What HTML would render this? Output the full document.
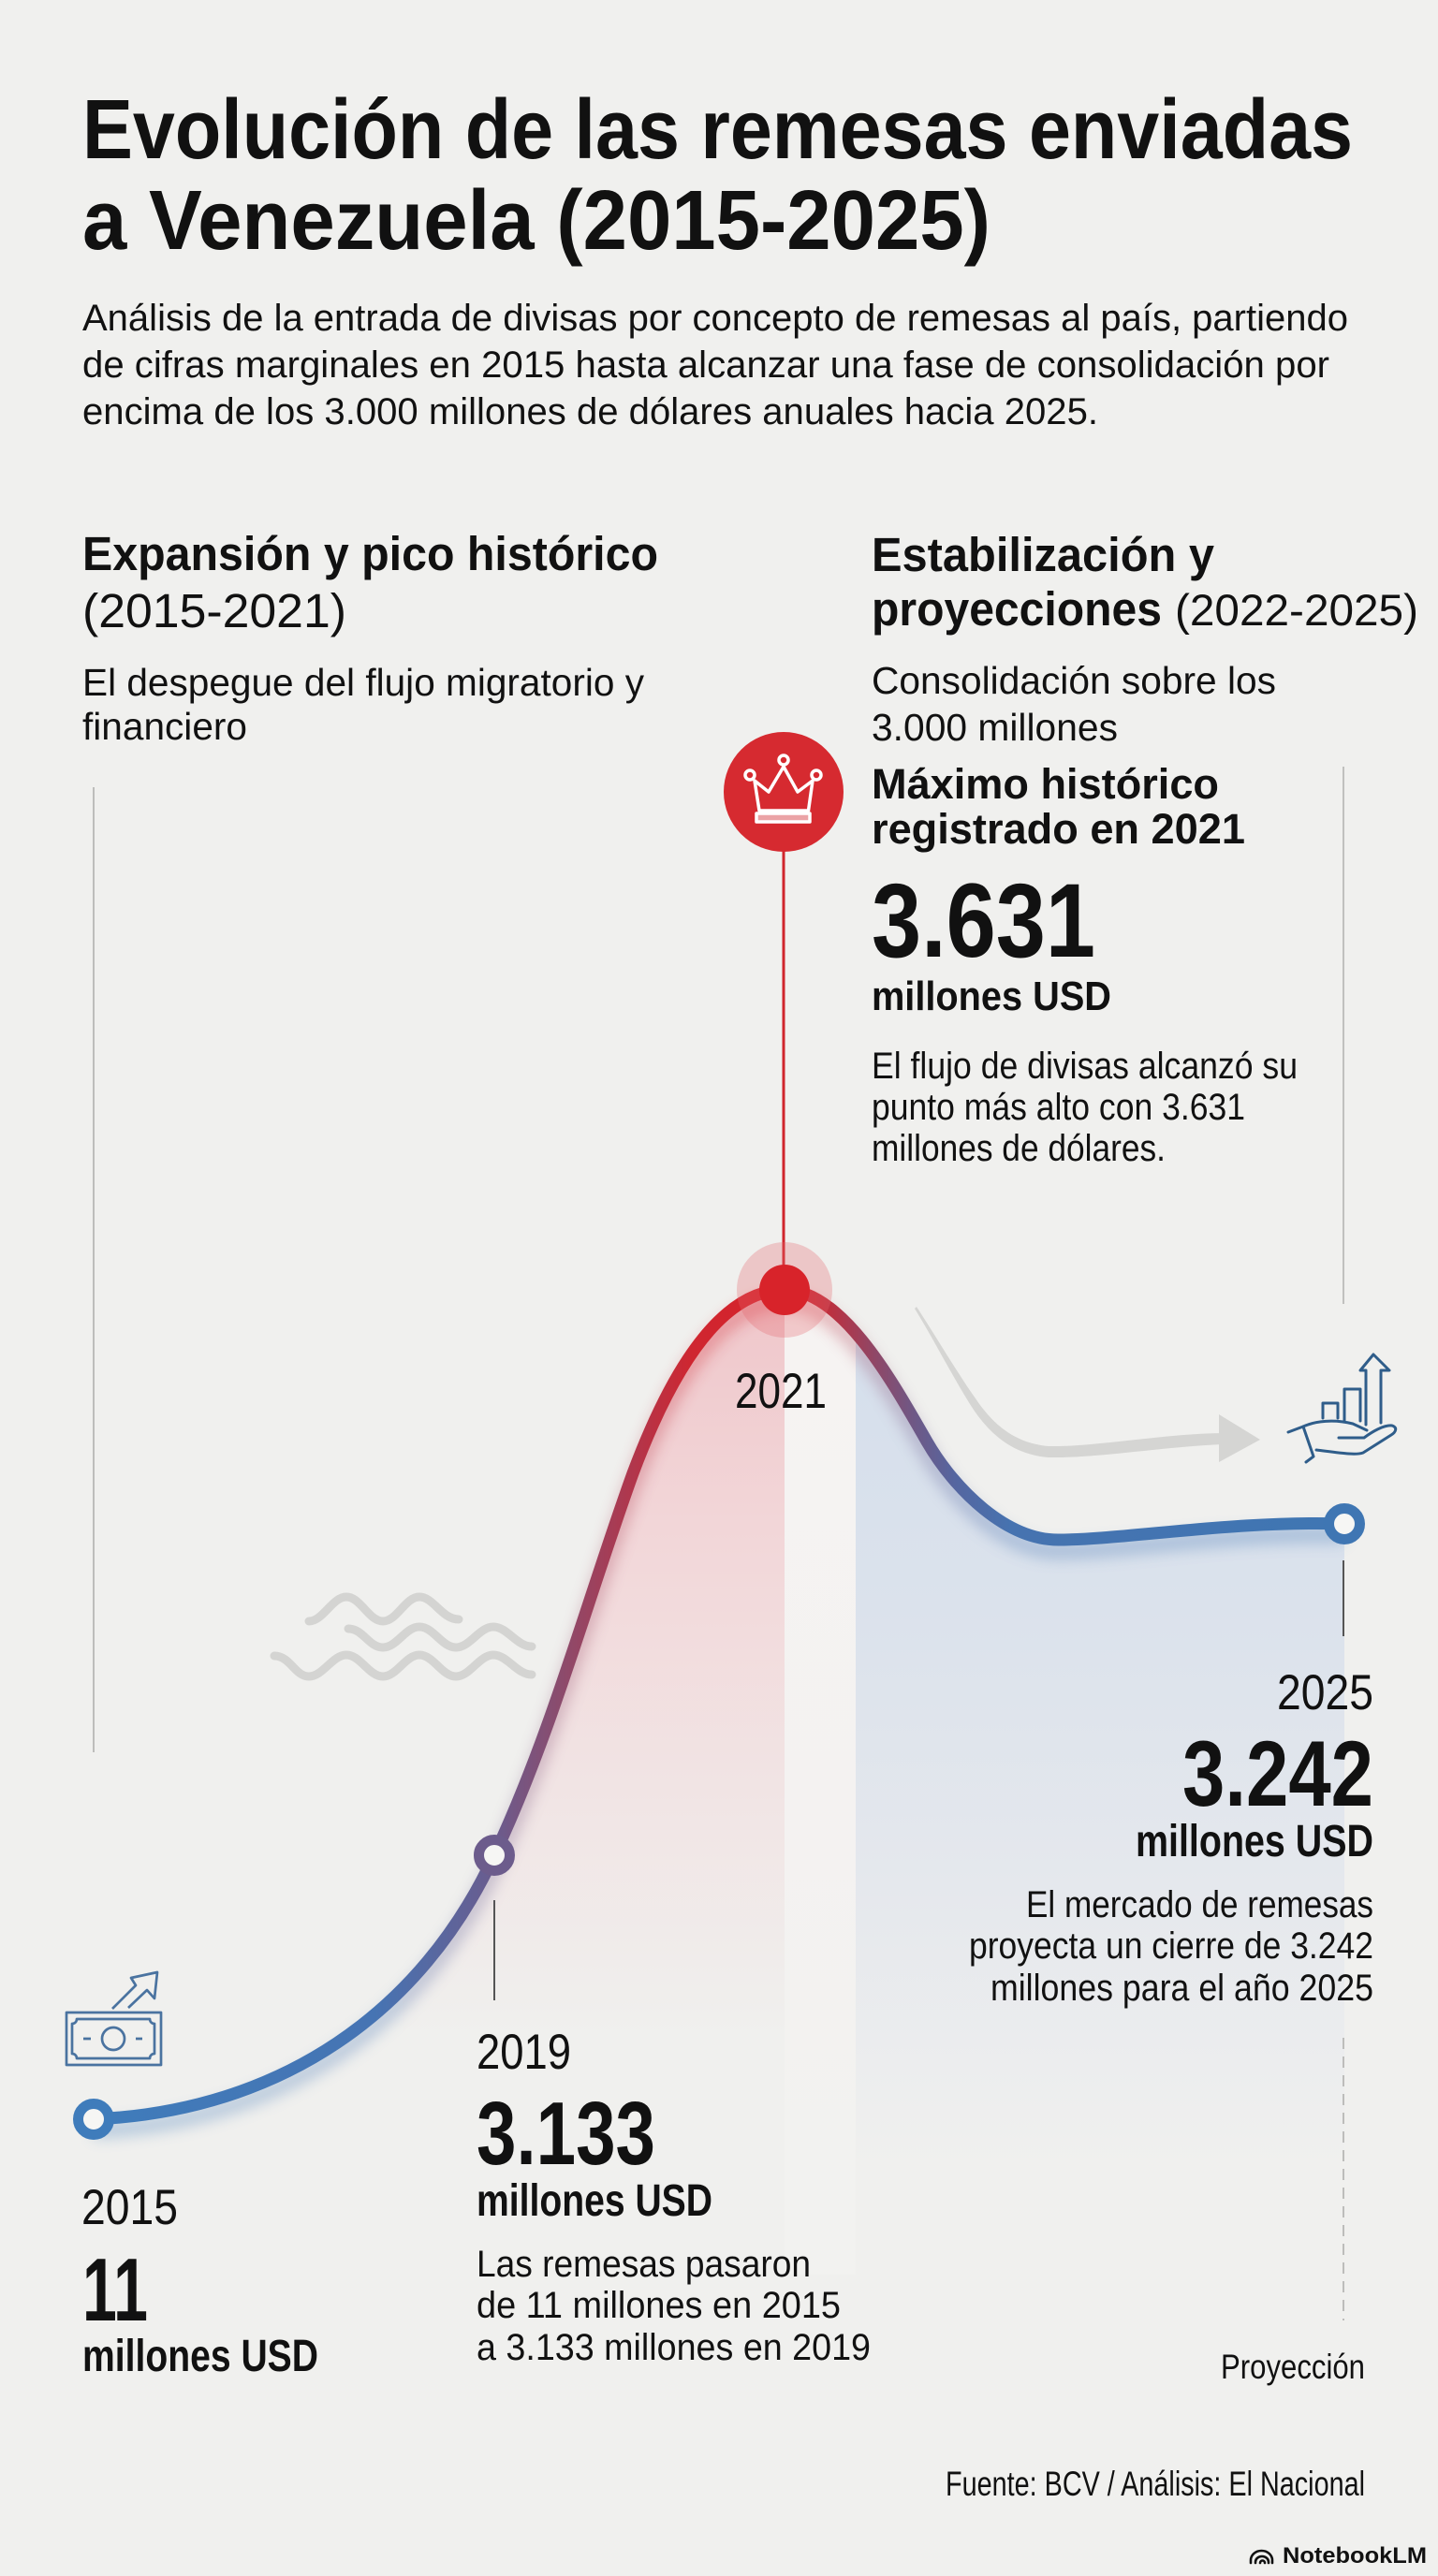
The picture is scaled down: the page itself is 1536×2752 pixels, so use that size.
<!DOCTYPE html>
<html>
<head>
<meta charset="utf-8">
<style>
  html,body{margin:0;padding:0;background:#f0f0ee;}
  svg{display:block;}
  text{font-family:"Liberation Sans", Arial, sans-serif; fill:#111;}
  .b{font-weight:bold;}
</style>
</head>
<body>
<svg width="1536" height="2752" viewBox="0 0 1536 2752" xmlns="http://www.w3.org/2000/svg">
  <defs>
    <linearGradient id="lg" gradientUnits="userSpaceOnUse" x1="100" y1="0" x2="1436" y2="0">
      <stop offset="0" stop-color="#3f7cbb"/>
      <stop offset="0.2246" stop-color="#4674b3"/>
      <stop offset="0.3204" stop-color="#6a5c8e"/>
      <stop offset="0.3743" stop-color="#8c4b6c"/>
      <stop offset="0.4341" stop-color="#b3354a"/>
      <stop offset="0.479" stop-color="#cf2630"/>
      <stop offset="0.5524" stop-color="#d8222a"/>
      <stop offset="0.5838" stop-color="#c22d3a"/>
      <stop offset="0.6213" stop-color="#934563"/>
      <stop offset="0.655" stop-color="#6f5885"/>
      <stop offset="0.6886" stop-color="#5566a0"/>
      <stop offset="0.7335" stop-color="#4673b0"/>
      <stop offset="1" stop-color="#3f76b3"/>
    </linearGradient>
    <linearGradient id="pinkG" gradientUnits="userSpaceOnUse" x1="0" y1="1378" x2="0" y2="2380">
      <stop offset="0" stop-color="#efc6ca"/>
      <stop offset="0.25" stop-color="#f2d6d8"/>
      <stop offset="0.55" stop-color="#f1e5e5"/>
      <stop offset="0.8" stop-color="#f0f0ee"/>
      <stop offset="1" stop-color="#f0f0ee"/>
    </linearGradient>
    <linearGradient id="bandG" gradientUnits="userSpaceOnUse" x1="0" y1="1378" x2="0" y2="2380">
      <stop offset="0" stop-color="#f6f3f2"/>
      <stop offset="1" stop-color="#f2f2f0"/>
    </linearGradient>
    <linearGradient id="blueG" gradientUnits="userSpaceOnUse" x1="0" y1="1420" x2="0" y2="2320">
      <stop offset="0" stop-color="#d5dfec"/>
      <stop offset="0.33" stop-color="#dbe2ec"/>
      <stop offset="0.66" stop-color="#e5e8ed"/>
      <stop offset="1" stop-color="#f0f0ee"/>
    </linearGradient>
    <clipPath id="under">
      <path d="M100,2264 C300,2255 450,2150 528,1982 C589,1852 627,1710 676,1574 C700,1510 755,1378 838,1378 C900,1378 955,1479 990,1540 C1020,1592 1075,1645 1130,1645 C1200,1645 1320,1624 1436,1628 L1436,2430 L100,2430 Z"/>
    </clipPath>
    <filter id="blur" x="-10%" y="-10%" width="120%" height="120%">
      <feGaussianBlur stdDeviation="8"/>
    </filter>
  </defs>

  <rect x="0" y="0" width="1536" height="2752" fill="#f0f0ee"/>

  <!-- Title -->
  <text class="b" x="88" y="169" font-size="90" textLength="1357" lengthAdjust="spacingAndGlyphs">Evolución de las remesas enviadas</text>
  <text class="b" x="88" y="266" font-size="90" textLength="970" lengthAdjust="spacingAndGlyphs">a Venezuela (2015-2025)</text>

  <!-- Subtitle -->
  <text x="88" y="353" font-size="40" textLength="1352" lengthAdjust="spacingAndGlyphs">Análisis de la entrada de divisas por concepto de remesas al país, partiendo</text>
  <text x="88" y="403" font-size="40" textLength="1332" lengthAdjust="spacingAndGlyphs">de cifras marginales en 2015 hasta alcanzar una fase de consolidación por</text>
  <text x="88" y="453" font-size="40" textLength="1085" lengthAdjust="spacingAndGlyphs">encima de los 3.000 millones de dólares anuales hacia 2025.</text>

  <!-- Left section header -->
  <text class="b" x="88" y="609" font-size="51" textLength="615" lengthAdjust="spacingAndGlyphs">Expansión y pico histórico</text>
  <text x="88" y="670" font-size="51" textLength="282" lengthAdjust="spacingAndGlyphs">(2015-2021)</text>
  <text x="88" y="743" font-size="41" textLength="600" lengthAdjust="spacingAndGlyphs">El despegue del flujo migratorio y</text>
  <text x="88" y="790" font-size="41" textLength="176" lengthAdjust="spacingAndGlyphs">financiero</text>

  <!-- Right section header -->
  <text class="b" x="931" y="610" font-size="51" textLength="366" lengthAdjust="spacingAndGlyphs">Estabilización y</text>
  <text class="b" x="931" y="668" font-size="51" textLength="310" lengthAdjust="spacingAndGlyphs">proyecciones</text>
  <text x="1255" y="668" font-size="47" textLength="260" lengthAdjust="spacingAndGlyphs">(2022-2025)</text>
  <text x="931" y="741" font-size="41" textLength="432" lengthAdjust="spacingAndGlyphs">Consolidación sobre los</text>
  <text x="931" y="791" font-size="41" textLength="263" lengthAdjust="spacingAndGlyphs">3.000 millones</text>

  <!-- Fills under curve -->
  <g clip-path="url(#under)">
    <rect x="430" y="1370" width="408" height="1060" fill="url(#pinkG)"/>
    <rect x="838" y="1370" width="76" height="1060" fill="url(#bandG)"/>
    <rect x="914" y="1370" width="522" height="1060" fill="url(#blueG)"/>
  </g>

  <!-- Vertical guide lines -->
  <line x1="100" y1="841" x2="100" y2="1872" stroke="#bdbdbb" stroke-width="2"/>
  <line x1="1435" y1="819" x2="1435" y2="1393" stroke="#c0c0be" stroke-width="2"/>
  <line x1="1435" y1="1667" x2="1435" y2="1748" stroke="#555" stroke-width="2"/>
  <line x1="1435" y1="2177" x2="1435" y2="2479" stroke="#bdbdbb" stroke-width="2" stroke-dasharray="12 8"/>
  <line x1="528" y1="2030" x2="528" y2="2137" stroke="#555" stroke-width="2"/>

  <!-- Red peak line -->
  <line x1="837" y1="905" x2="837" y2="1378" stroke="#d0262d" stroke-width="3"/>

  <!-- Crown circle -->
  <circle cx="837" cy="846" r="64" fill="#d62a30"/>
  <g fill="none" stroke="#ffffff" stroke-width="3.5" stroke-linejoin="round">
    <path d="M806,834 L821,846 L837,819 L852,846 L868,834 L863.5,866 L811,866 Z"/>
    <circle cx="837" cy="812" r="5"/>
    <circle cx="801" cy="828" r="5"/>
    <circle cx="872" cy="828" r="5"/>
    <rect x="808" y="869" width="57" height="9" fill="#eba3a6"/>
  </g>

  <!-- Peak text block -->
  <text class="b" x="931" y="853" font-size="45" textLength="371" lengthAdjust="spacingAndGlyphs">Máximo histórico</text>
  <text class="b" x="931" y="901" font-size="45" textLength="399" lengthAdjust="spacingAndGlyphs">registrado en 2021</text>
  <text class="b" x="931" y="1022" font-size="112" textLength="239" lengthAdjust="spacingAndGlyphs">3.631</text>
  <text class="b" x="931" y="1079" font-size="44" textLength="256" lengthAdjust="spacingAndGlyphs">millones USD</text>
  <text x="931" y="1152" font-size="40" textLength="455" lengthAdjust="spacingAndGlyphs">El flujo de divisas alcanzó su</text>
  <text x="931" y="1196" font-size="40" textLength="399" lengthAdjust="spacingAndGlyphs">punto más alto con 3.631</text>
  <text x="931" y="1240" font-size="40" textLength="314" lengthAdjust="spacingAndGlyphs">millones de dólares.</text>

  <!-- Waves -->
  <g fill="none" stroke="#d4d4d2" stroke-width="9" stroke-linecap="round">
    <path d="M330,1732 C345,1732 355,1706 370,1706 C385,1706 394,1732 409,1732 C424,1732 433,1706 448,1706 C463,1706 472,1730 490,1730"/>
    <path d="M372,1740 C388,1740 394,1760 409,1760 C424,1760 433,1738 448,1738 C463,1738 472,1760 487,1760 C502,1760 512,1738 527,1738 C542,1738 552,1759 568,1759"/>
    <path d="M293,1769 C310,1769 315,1791 330,1791 C345,1791 355,1768 370,1768 C385,1768 394,1791 409,1791 C424,1791 433,1768 448,1768 C463,1768 472,1791 487,1791 C502,1791 512,1768 527,1768 C542,1768 552,1789 568,1789"/>
  </g>

  <!-- Gray trend arrow (tapered) -->
  <path d="M979,1396 C1000,1428 1022,1466 1042,1494 C1062,1524 1086,1542 1120,1545 C1170,1546 1240,1532 1305,1531 L1305,1543 C1240,1546 1170,1558 1120,1557 C1082,1554 1056,1532 1036,1500 C1016,1468 998,1432 977,1398 Z" fill="#d5d5d3"/>
  <polygon points="1302,1511 1346,1538 1302,1562" fill="#d5d5d3"/>

  <!-- Hand icon -->
  <g fill="none" stroke="#2f5d8a" stroke-width="3" stroke-linejoin="round" stroke-linecap="round">
    <path d="M1459,1522 V1464 H1453 L1467,1447 L1484,1464 H1475 V1520"/>
    <path d="M1436,1518 V1484 H1453 V1518"/>
    <path d="M1413,1515 V1499 H1429 V1515"/>
    <path d="M1392,1524 C1405,1518 1425,1516 1445,1521 L1460,1528"/>
    <path d="M1430,1536 L1457,1536 C1465,1530 1478,1522 1487,1523 C1493,1525 1491,1530 1486,1533 L1456,1552 C1448,1555 1430,1552 1406,1549"/>
    <path d="M1376,1530 L1392,1524 L1403,1556 L1395,1562"/>
  </g>

  <!-- Money icon -->
  <g fill="none" stroke="#4a73a0" stroke-width="2.7" stroke-linejoin="round">
    <rect x="71" y="2150" width="101" height="56"/>
    <path d="M82,2157 H160 A5,5 0 0 0 165,2162 V2194 A5,5 0 0 0 160,2199 H82 A5,5 0 0 0 77,2194 V2162 A5,5 0 0 0 82,2157 Z"/>
    <circle cx="121" cy="2178" r="12"/>
    <path d="M89,2178 H97 M145,2178 H152"/>
    <path d="M120,2146 L145,2121 L140,2113 L168,2107 L165,2135 L157,2126 L137,2145"/>
  </g>

  <!-- Curve shadow -->
  <path d="M100,2264 C300,2255 450,2150 528,1982 C589,1852 627,1710 676,1574 C700,1510 755,1378 838,1378 C900,1378 955,1479 990,1540 C1020,1592 1075,1645 1130,1645 C1200,1645 1320,1624 1436,1628" fill="none" stroke="url(#lg)" stroke-width="16" opacity="0.35" filter="url(#blur)" transform="translate(0,12)"/>

  <!-- Main curve -->
  <path d="M100,2264 C300,2255 450,2150 528,1982 C589,1852 627,1710 676,1574 C700,1510 755,1378 838,1378 C900,1378 955,1479 990,1540 C1020,1592 1075,1645 1130,1645 C1200,1645 1320,1624 1436,1628" fill="none" stroke="url(#lg)" stroke-width="13" stroke-linecap="round"/>

  <!-- Markers -->
  <circle cx="838" cy="1378" r="51" fill="#e3666d" opacity="0.3"/>
  <circle cx="838" cy="1378" r="27" fill="#d8232a"/>
  <circle cx="100" cy="2264" r="16.5" fill="#f6f6f4" stroke="#3f7cbb" stroke-width="11"/>
  <circle cx="528" cy="1982" r="16.5" fill="#f6f6f4" stroke="#6c5c8c" stroke-width="11"/>
  <circle cx="1436" cy="1628" r="16.5" fill="#f6f6f4" stroke="#3f76b3" stroke-width="11"/>

  <!-- Chart labels -->
  <text x="785" y="1504" font-size="53" textLength="98" lengthAdjust="spacingAndGlyphs">2021</text>

  <text x="1364" y="1826" font-size="53" textLength="103" lengthAdjust="spacingAndGlyphs">2025</text>
  <text class="b" x="1263" y="1929" font-size="99" textLength="204" lengthAdjust="spacingAndGlyphs">3.242</text>
  <text class="b" x="1213" y="1983" font-size="48" textLength="254" lengthAdjust="spacingAndGlyphs">millones USD</text>
  <text x="1096" y="2048" font-size="40" textLength="371" lengthAdjust="spacingAndGlyphs">El mercado de remesas</text>
  <text x="1035" y="2092" font-size="40" textLength="432" lengthAdjust="spacingAndGlyphs">proyecta un cierre de 3.242</text>
  <text x="1058" y="2137" font-size="40" textLength="409" lengthAdjust="spacingAndGlyphs">millones para el año 2025</text>

  <text x="509" y="2210" font-size="53" textLength="101" lengthAdjust="spacingAndGlyphs">2019</text>
  <text class="b" x="509" y="2312" font-size="96" textLength="191" lengthAdjust="spacingAndGlyphs">3.133</text>
  <text class="b" x="509" y="2367" font-size="48" textLength="252" lengthAdjust="spacingAndGlyphs">millones USD</text>
  <text x="509" y="2432" font-size="40" textLength="357" lengthAdjust="spacingAndGlyphs">Las remesas pasaron</text>
  <text x="509" y="2476" font-size="40" textLength="389" lengthAdjust="spacingAndGlyphs">de 11 millones en 2015</text>
  <text x="509" y="2521" font-size="40" textLength="421" lengthAdjust="spacingAndGlyphs">a 3.133 millones en 2019</text>

  <text x="87" y="2376" font-size="53" textLength="103" lengthAdjust="spacingAndGlyphs">2015</text>
  <text class="b" x="88" y="2479" font-size="96" textLength="70" lengthAdjust="spacingAndGlyphs">11</text>
  <text class="b" x="88" y="2533" font-size="48" textLength="252" lengthAdjust="spacingAndGlyphs">millones USD</text>

  <text x="1304" y="2541" font-size="37" textLength="154" lengthAdjust="spacingAndGlyphs">Proyección</text>
  <text x="1010" y="2666" font-size="37" textLength="448" lengthAdjust="spacingAndGlyphs">Fuente: BCV / Análisis: El Nacional</text>

  <!-- NotebookLM logo -->
  <g fill="none" stroke="#111" stroke-width="2.6" stroke-linecap="round">
    <path d="M1336,2738 V2735 A11.5,10 0 0 1 1359,2735 V2738"/>
    <path d="M1341,2738 V2737 A7,6 0 0 1 1355,2737 V2738"/>
    <path d="M1346,2738 A2.5,2.5 0 0 1 1351,2738"/>
  </g>
  <text class="b" x="1370" y="2738" font-size="24" textLength="154" lengthAdjust="spacingAndGlyphs">NotebookLM</text>
</svg>
</body>
</html>
